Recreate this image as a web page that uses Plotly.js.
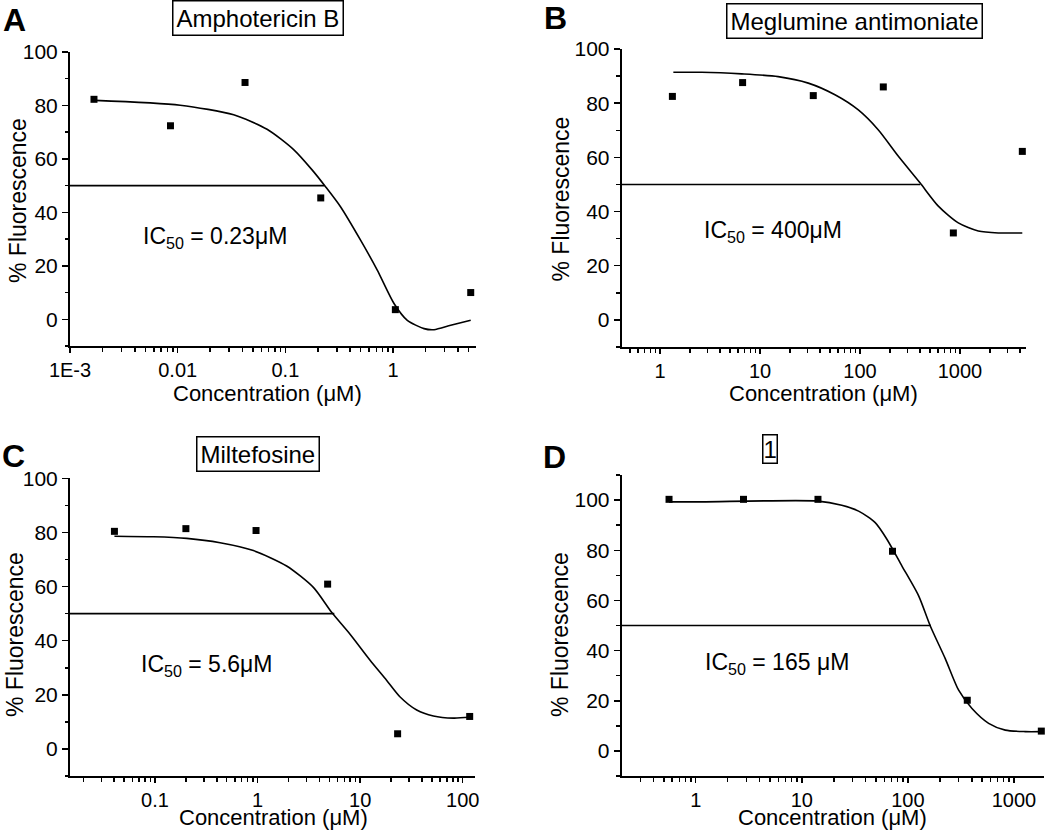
<!DOCTYPE html>
<html>
<head>
<meta charset="utf-8">
<script src="https://cdn.plot.ly/plotly-3.0.1.min.js"></script>
<style>html,body{margin:0;padding:0;background:#fff}#chart{width:1050px;height:830px}</style>
</head>
<body>
<div id="chart"></div>
<script>
// ---- Panel A: Amphotericin B ----
var concA = [0.00167, 0.00857, 0.0422, 0.213, 1.05, 5.26];
var fluorA = [82.3, 72.4, 88.6, 45.4, 3.6, 10.0];
var fitXA = [0.00171, 0.01054, 0.0331, 0.0676, 0.120, 0.177, 0.236, 0.325, 0.499, 0.713, 1.02, 1.355, 1.94, 2.40, 3.43, 5.26];
var fitYA = [81.9, 80.1, 76.5, 71.1, 63.4, 55.9, 49.6, 42.1, 29.6, 18.4, 5.9, -0.4, -3.5, -3.9, -2.25, -0.4];
var ic50A = 0.23;

// ---- Panel B: Meglumine antimoniate ----
var concB = [1.33, 6.7, 34.1, 171, 858, 4200];
var fluorB = [82.5, 87.6, 82.8, 86.0, 32.1, 62.2];
var fitXB = [1.36, 2.61, 6.56, 15.2, 30.4, 56.2, 96.2, 152, 242, 398, 607, 962, 1524, 2415, 4198];
var fitYB = [91.4, 91.4, 90.8, 89.8, 87.4, 83.1, 77.5, 70.2, 60.4, 50.6, 42.0, 35.8, 32.8, 32.1, 32.1];
var ic50B = 400;

// ---- Panel C: Miltefosine ----
var concC = [0.0402, 0.2, 0.966, 4.82, 23.2, 117];
var fluorC = [80.4, 81.4, 80.7, 60.9, 5.6, 12.0];
var fitXC = [0.0402, 0.0964, 0.204, 0.431, 0.910, 1.92, 3.50, 5.27, 7.94, 12.5, 18.1, 24.4, 35.6, 51.8, 81.1, 117];
var fitYC = [78.6, 78.4, 77.8, 76.2, 73.3, 67.6, 59.7, 50.5, 42.5, 32.8, 25.4, 19.3, 14.4, 12.2, 11.4, 11.7];
var ic50C = 5.6;

// ---- Panel D: compound 1 ----
var concD = [0.56, 2.82, 14.2, 71.6, 363, 1811];
var fluorD = [100.3, 100.3, 100.3, 79.6, 20.2, 7.9];
var fitXD = [0.56, 1.14, 14.2, 23.8, 34.3, 49.2, 63.4, 87.7, 126, 163, 225, 301, 402, 577, 828, 1279, 1811];
var fitYD = [99.3, 99.3, 99.6, 97.9, 95.6, 91.0, 84.4, 73.8, 61.9, 49.7, 36.8, 24.2, 16.9, 11.0, 8.3, 7.7, 7.7];
var ic50D = 165;

// tick labels
var xTickValsA = [0.001, 0.01, 0.1, 1];
var xTickTextA = ['1E-3', '0.01', '0.1', '1'];
var xTickValsB = [1, 10, 100, 1000];
var xTickTextB = ['1', '10', '100', '1000'];
var xTickValsC = [0.1, 1, 10, 100];
var xTickTextC = ['0.1', '1', '10', '100'];
var xTickValsD = [1, 10, 100, 1000];
var xTickTextD = ['1', '10', '100', '1000'];
var yTickVals = [0, 20, 40, 60, 80, 100];

var titles = ['Amphotericin B', 'Meglumine antimoniate', 'Miltefosine', '1'];
var ic50Labels = ['IC<sub>50</sub> = 0.23\u03bcM', 'IC<sub>50</sub> = 400\u03bcM', 'IC<sub>50</sub> = 5.6\u03bcM', 'IC<sub>50</sub> = 165 \u03bcM'];
var letters = ['A', 'B', 'C', 'D'];

var FONT = 'Liberation Sans, Arial, Helvetica, sans-serif';
var W = 1050, H = 830;

var panels = [
  {conc: concA, fl: fluorA, fx: fitXA, fy: fitYA, ic: ic50A, xr: [-3, 0.77], yr: [-10, 100],
   xd: [70, 476], yd: [52, 346], tv: xTickValsA, tt: xTickTextA, xf: 20},
  {conc: concB, fl: fluorB, fx: fitXB, fy: fitYB, ic: ic50B, xr: [-0.383, 3.66], yr: [-10, 100],
   xd: [621.7, 1026], yd: [49, 347], tv: xTickValsB, tt: xTickTextB, xf: 20},
  {conc: concC, fl: fluorC, fx: fitXC, fy: fitYC, ic: ic50C, xr: [-1.829, 2.12], yr: [-10, 100],
   xd: [70, 475], yd: [478.3, 776], tv: xTickValsC, tt: xTickTextC, xf: 20},
  {conc: concD, fl: fluorD, fx: fitXD, fy: fitYD, ic: ic50D, xr: [-0.698, 3.286], yr: [-10, 110],
   xd: [621.7, 1044.3], yd: [475, 776], tv: xTickValsD, tt: xTickTextD, xf: 20}
];

function minorLog(r) {
  var out = [];
  for (var d = Math.floor(r[0]); d <= Math.ceil(r[1]); d++) {
    for (var k = 2; k <= 9; k++) {
      var v = k * Math.pow(10, d);
      var lv = Math.log10(v);
      if (lv >= r[0] && lv <= r[1]) out.push(v);
    }
  }
  return out;
}

var data = [];
var layout = {
  width: W, height: H,
  margin: {l: 0, r: 0, t: 0, b: 0},
  paper_bgcolor: '#fff', plot_bgcolor: '#fff',
  showlegend: false,
  font: {family: FONT, color: '#000', size: 21},
  annotations: []
};

panels.forEach(function (p, i) {
  var n = i + 1;
  var xa = n === 1 ? 'x' : 'x' + n;
  var ya = n === 1 ? 'y' : 'y' + n;
  // fitted curve
  data.push({x: p.fx, y: p.fy, xaxis: xa, yaxis: ya, mode: 'lines', type: 'scatter',
    line: {color: '#000', width: 1.6, shape: 'spline', smoothing: 0.7}, hoverinfo: 'skip'});
  // IC50 line from the left edge of the axis to the IC50 value
  data.push({x: [Math.pow(10, p.xr[0]), p.ic], y: [50, 50], xaxis: xa, yaxis: ya, mode: 'lines', type: 'scatter',
    line: {color: '#000', width: 1.6}, hoverinfo: 'skip'});
  // data points
  data.push({x: p.conc, y: p.fl, xaxis: xa, yaxis: ya, mode: 'markers', type: 'scatter',
    marker: {symbol: 'square', size: 7, color: '#000'}, cliponaxis: false});

  layout['xaxis' + (n === 1 ? '' : n)] = {
    type: 'log', range: p.xr, domain: [p.xd[0] / W, p.xd[1] / W], anchor: ya,
    showgrid: false, zeroline: false, showline: true, linecolor: '#000', linewidth: 2,
    ticks: 'outside', ticklen: 5, tickwidth: 1.5, tickcolor: '#000',
    tickmode: 'array', tickvals: p.tv, ticktext: p.tt,
    tickfont: {family: FONT, size: p.xf, color: '#000'},
    minor: {tickmode: 'array', tickvals: minorLog(p.xr), ticks: 'outside', ticklen: 3.5, tickwidth: 1.5, tickcolor: '#000', showgrid: false},
    fixedrange: true
  };
  layout['yaxis' + (n === 1 ? '' : n)] = {
    range: p.yr, domain: [1 - p.yd[1] / H, 1 - p.yd[0] / H], anchor: xa,
    showgrid: false, zeroline: false, showline: true, linecolor: '#000', linewidth: 2,
    ticks: 'outside', ticklen: 6, tickwidth: 1.5, tickcolor: '#000',
    tickmode: 'array', tickvals: yTickVals,
    tickfont: {family: FONT, size: 21, color: '#000'},
    minor: {dtick: 10, tick0: 0, ticks: 'outside', ticklen: 3.5, tickwidth: 1.5, tickcolor: '#000', showgrid: false},
    fixedrange: true
  };
});

function ann(px, py, text, extra) {
  var a = {xref: 'paper', yref: 'paper', x: px / W, y: 1 - py / H, text: text, showarrow: false,
    xanchor: 'center', yanchor: 'middle', font: {family: FONT, size: 23, color: '#000'}};
  for (var k in extra) a[k] = extra[k];
  layout.annotations.push(a);
}

// panel titles in boxes
var titlePos = [[257.5, 18.5], [854, 21.5], [258, 453.5], [770, 448.5]];
titles.forEach(function (t, i) {
  ann(titlePos[i][0], titlePos[i][1], t, {font: {family: FONT, size: 24, color: '#000'},
    bordercolor: '#000', borderwidth: 1.5, borderpad: i === 3 ? 0 : 3});
});
// panel letters
var letterPos = [[14.5, 19.5], [555, 18], [13.5, 455.5], [554.5, 456.5]];
letters.forEach(function (t, i) {
  ann(letterPos[i][0], letterPos[i][1], '<b>' + t + '</b>', {font: {family: FONT, size: 32, color: '#000'}});
});
// IC50 labels
var icPos = [[215, 237], [773, 232], [207, 665], [777, 663]];
ic50Labels.forEach(function (t, i) { ann(icPos[i][0], icPos[i][1], t, {}); });
// axis titles
var xTitlePos = [[267.5, 393], [823, 393], [273, 817], [832, 817]];
var yTitlePos = [[18, 201], [560, 199.5], [15, 635], [560, 635]];
for (var i = 0; i < 4; i++) {
  ann(xTitlePos[i][0], xTitlePos[i][1], 'Concentration (\u03bcM)', {font: {family: FONT, size: 22, color: '#000'}});
  ann(yTitlePos[i][0], yTitlePos[i][1], '% Fluorescence', {textangle: -90});
}

Plotly.newPlot('chart', data, layout, {displayModeBar: false, staticPlot: true});
</script>
</body>
</html>
